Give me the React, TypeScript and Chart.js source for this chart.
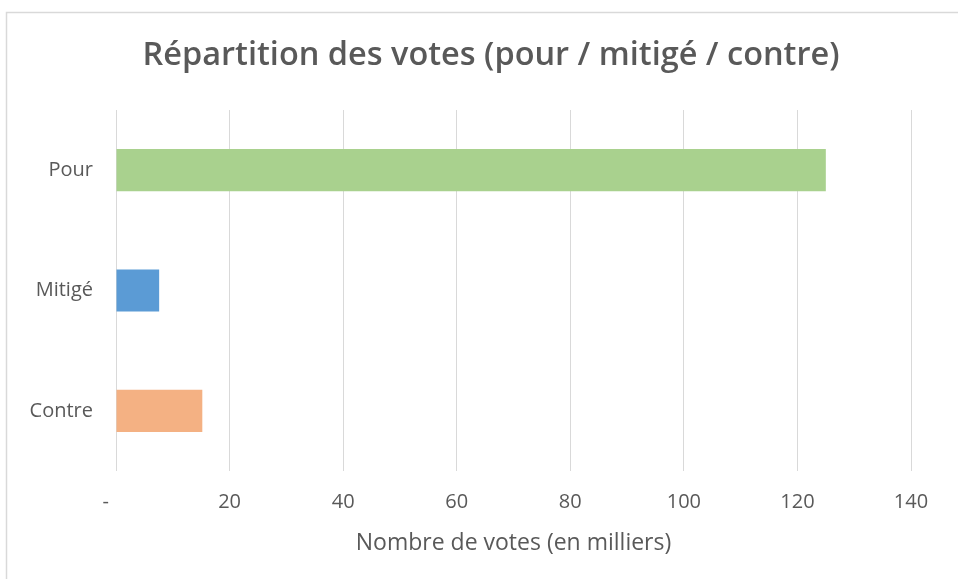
import React, { useEffect, useRef } from "react";
import { Chart, registerables } from "chart.js";

Chart.register(...registerables);

const categories = ["Pour", "Mitigé", "Contre"];
const votes = [125, 7.6, 15.2];
const barColors = ["#A9D18E", "#5B9BD5", "#F4B183"];
const xTicks = [0, 20, 40, 60, 80, 100, 120, 140];
const titleText = "Répartition des votes (pour / mitigé / contre)";
const xAxisTitle = "Nombre de votes (en milliers)";

const FONT = "'Open Sans', sans-serif";
const TEXT = "#595959";

const framePlugin = {
  id: "frame",
  beforeDraw(chart: any) {
    const { ctx, width, height } = chart;
    ctx.save();
    ctx.fillStyle = "#ffffff";
    ctx.fillRect(0, 0, width, height);
    ctx.strokeStyle = "#d9d9d9";
    ctx.lineWidth = 1.5;
    ctx.beginPath();
    ctx.moveTo(6.5, height);
    ctx.lineTo(6.5, 12.5);
    ctx.lineTo(width, 12.5);
    ctx.stroke();
    ctx.restore();
  },
};

const titlePlugin = {
  id: "customTitle",
  afterDraw(chart: any) {
    const { ctx } = chart;
    ctx.save();
    ctx.fillStyle = TEXT;
    ctx.font = `600 32.5px ${FONT}`;
    ctx.textAlign = "center";
    ctx.textBaseline = "middle";
    ctx.fillText(titleText, 491, 56);
    ctx.restore();
  },
};

export default function App() {
  const ref = useRef<HTMLCanvasElement>(null);
  useEffect(() => {
    document.body.style.margin = "0";
    const chart = new Chart(ref.current!, {
      type: "bar",
      data: {
        labels: categories,
        datasets: [
          {
            data: votes,
            backgroundColor: barColors,
            barPercentage: 0.35,
            categoryPercentage: 1,
          },
        ],
      },
      options: {
        indexAxis: "y",
        animation: false,
        responsive: false,
        layout: { padding: { left: 0, right: 47, top: 110, bottom: 0 } },
        plugins: {
          legend: { display: false },
          tooltip: { enabled: false },
          title: { display: false },
        },
        scales: {
          x: {
            min: 0,
            max: 140,
            afterBuildTicks: (scale: any) => {
              scale.ticks = xTicks.map((v) => ({ value: v }));
            },
            afterFit: (scale: any) => {
              scale.height = 108;
            },
            grid: { color: "#d9d9d9", drawTicks: false, lineWidth: 1 },
            border: { display: false },
            ticks: {
              color: TEXT,
              padding: 19,
              font: { family: FONT, size: 20 },
              callback: (v: any) => (Number(v) === 0 ? "-    " : String(v)),
            },
            title: {
              display: true,
              text: xAxisTitle,
              color: TEXT,
              font: { family: FONT, size: 23 },
              padding: { top: 0, bottom: 22 },
            },
          },
          y: {
            afterFit: (scale: any) => {
              scale.width = 116;
            },
            grid: { display: false, drawTicks: false },
            border: { display: false },
            ticks: {
              color: TEXT,
              padding: 23,
              font: { family: FONT, size: 20 },
            },
          },
        },
      },
      plugins: [framePlugin, titlePlugin],
    });
    return () => chart.destroy();
  }, []);
  return <canvas ref={ref} width={958} height={579} style={{ display: "block" }} />;
}
